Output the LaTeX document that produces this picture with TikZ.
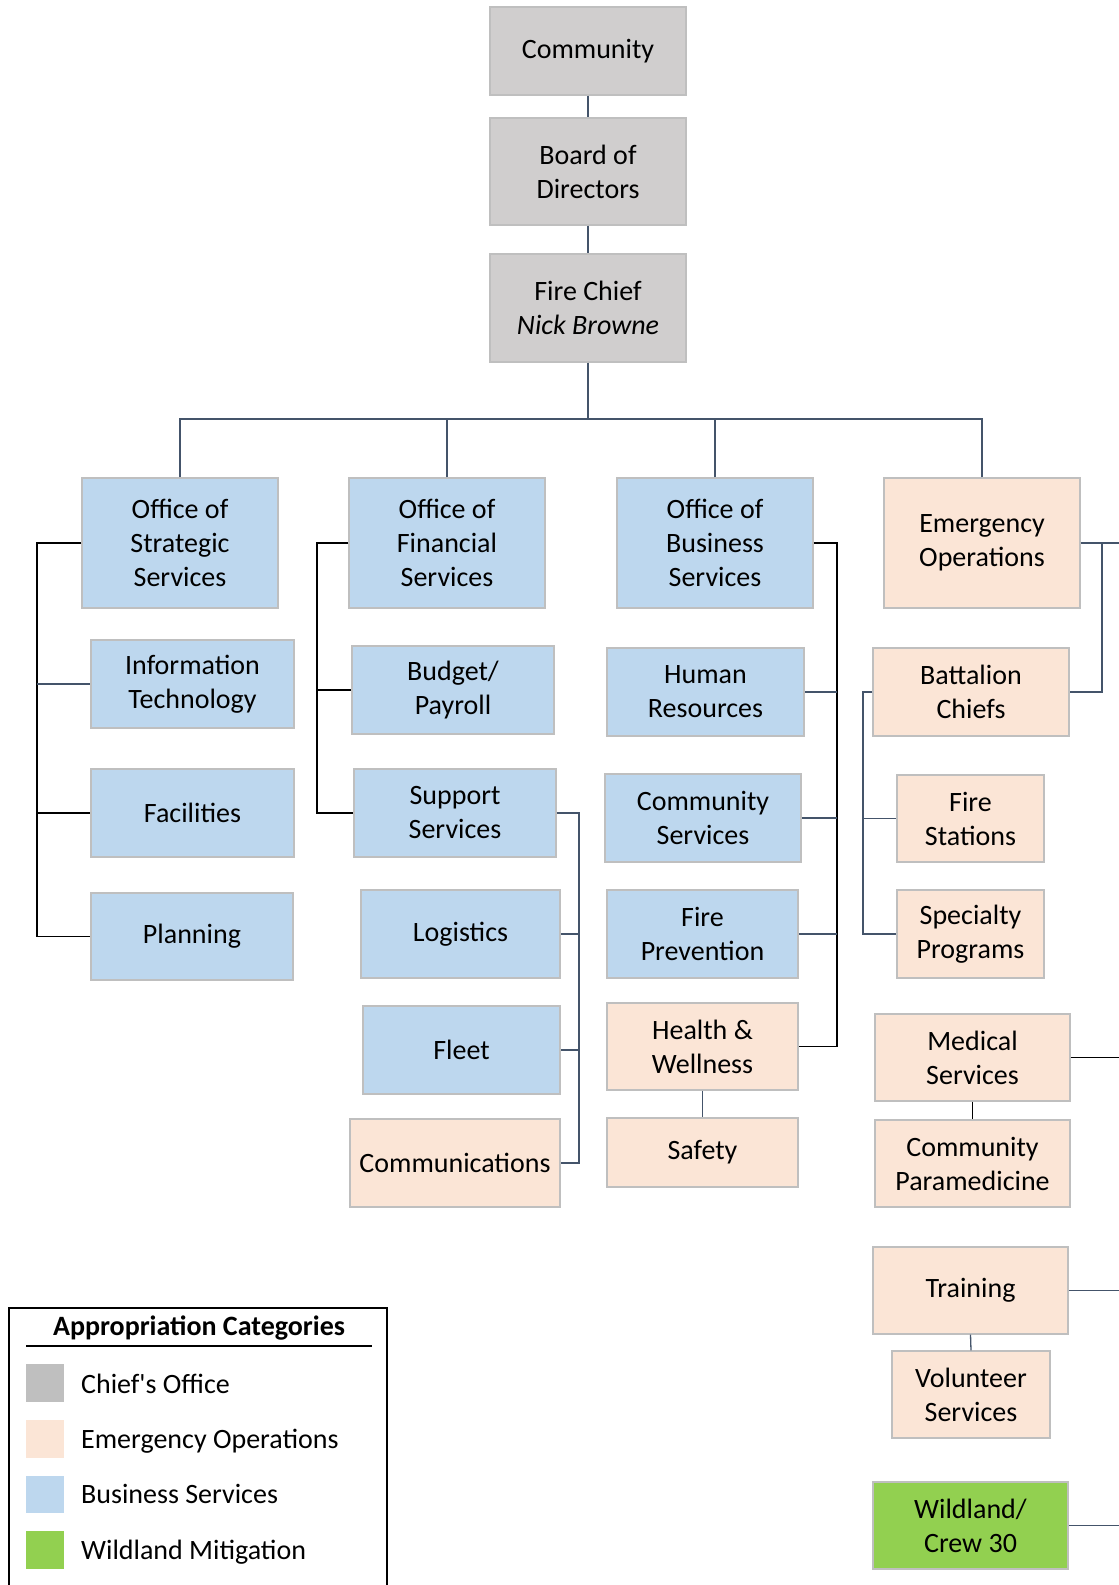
\documentclass[tikz,border=0pt]{standalone}
\usepackage{fontspec}
\setmainfont{Carlito}
\definecolor{cgray}{HTML}{D0CECE}
\definecolor{lgray}{HTML}{BFBFBF}
\definecolor{cblue}{HTML}{BDD7EE}
\definecolor{cpeach}{HTML}{FBE5D6}
\definecolor{cgreen}{HTML}{92D050}
\definecolor{slate}{HTML}{44546A}
\definecolor{bord}{HTML}{BFBFBF}
\tikzset{
  box/.style={draw=bord, line width=1.3pt, rectangle, inner sep=0pt, align=center,
    font=\fontsize{28}{34}\selectfont},
  gbox/.style={box, fill=cgray},
  bbox/.style={box, fill=cblue},
  pbox/.style={box, fill=cpeach},
  wbox/.style={box, fill=cgreen},
  blk/.style={draw=black, line width=1.3pt},
  sln/.style={draw=slate, line width=1.3pt},
  legtext/.style={anchor=base west, inner sep=0pt, font=\fontsize{28}{34}\selectfont}
}
\begin{document}
\begin{tikzpicture}[x=1pt,y=-1pt]
\useasboundingbox (0,0) rectangle (1119,1585);
\fill[white] (0,0) rectangle (1119,1585);

% top chain
\node[gbox, minimum width=196, minimum height=88] (comm) at (588,51) {Community};
\node[gbox, minimum width=196, minimum height=107] (board) at (588,171.5) {Board of\\Directors};
\node[gbox, minimum width=196, minimum height=108] (chief) at (588,308) {Fire Chief\\\textit{Nick Browne}};

% offices
\node[bbox, minimum width=196, minimum height=130] (strat) at (180,543) {Office of\\Strategic\\Services};
\node[bbox, minimum width=196, minimum height=130] (fin) at (447,543) {Office of\\Financial\\Services};
\node[bbox, minimum width=196, minimum height=130] (busn) at (715,543) {Office of\\Business\\Services};
\node[pbox, minimum width=196, minimum height=130] (eo) at (982,543) {Emergency\\Operations};

% strategic children
\node[bbox, minimum width=203, minimum height=88] (it) at (192.5,684) {Information\\Technology};
\node[bbox, minimum width=203, minimum height=88] (fac) at (192.5,813) {Facilities};
\node[bbox, minimum width=202, minimum height=87] (plan) at (192,936.5) {Planning};

% financial children
\node[bbox, minimum width=202, minimum height=88] (budget) at (453,690) {Budget/\\Payroll};
\node[bbox, minimum width=202, minimum height=88] (support) at (455,813) {Support\\Services};
\node[bbox, minimum width=199, minimum height=88] (logi) at (460.5,934) {Logistics};
\node[bbox, minimum width=197, minimum height=88] (fleet) at (461.5,1050) {Fleet};
\node[pbox, minimum width=210, minimum height=88] (commn) at (455,1163) {Communications};

% business children
\node[bbox, minimum width=197, minimum height=88] (hr) at (705.5,692) {Human\\Resources};
\node[bbox, minimum width=196, minimum height=88] (cs) at (703,818) {Community\\Services};
\node[bbox, minimum width=191, minimum height=88] (fp) at (702.5,934) {Fire\\Prevention};
\node[pbox, minimum width=191, minimum height=87] (hw) at (702.5,1046.5) {Health \&\\Wellness};
\node[pbox, minimum width=191, minimum height=69] (safety) at (702.5,1152.5) {Safety};

% emergency children
\node[pbox, minimum width=196, minimum height=88] (bc) at (971,692) {Battalion\\Chiefs};
\node[pbox, minimum width=147, minimum height=87] (fs) at (970.5,818.5) {Fire\\Stations};
\node[pbox, minimum width=147, minimum height=88] (sp) at (970.5,934) {Specialty\\Programs};
\node[pbox, minimum width=195, minimum height=87] (med) at (972.5,1057.5) {Medical\\Services};
\node[pbox, minimum width=195, minimum height=87] (cp) at (972.5,1163.5) {Community\\Paramedicine};
\node[pbox, minimum width=195, minimum height=87] (train) at (970.5,1290.5) {Training};
\node[pbox, minimum width=158, minimum height=87] (vol) at (971,1394.5) {Volunteer\\Services};
\node[wbox, minimum width=195, minimum height=87] (wild) at (970.5,1525.5) {Wildland/\\Crew 30};

% helper coordinates
\coordinate (bus) at (588,419);
\coordinate (xs) at (37,0);
\coordinate (xf) at (317,0);
\coordinate (xsup) at (579,0);
\coordinate (xb) at (837,0);
\coordinate (xe) at (1102,0);
\coordinate (xbc) at (863,0);
\coordinate (edge) at (1119,0);

% top connectors
\draw[sln] (comm.south) -- (board.north);
\draw[sln] (board.south) -- (chief.north);
\draw[sln] (chief.south) -- (bus);
\draw[sln] (strat.north) |- (bus);
\draw[sln] (fin.north) |- (bus);
\draw[sln] (busn.north) |- (bus);
\draw[sln] (eo.north) |- (bus);

% strategic spine
\draw[blk] (strat.west) -- (strat.west -| xs) -- (plan.west -| xs) -- (plan.west);
\draw[sln] (it.west -| xs) -- (it.west);
\draw[blk] (fac.west -| xs) -- (fac.west);

% financial spine
\draw[blk] (fin.west) -- (fin.west -| xf) -- (support.west -| xf) -- (support.west);
\draw[blk] (budget.west -| xf) -- (budget.west);

% support spine
\draw[sln] (support.east) -- (support.east -| xsup) -- (commn.east -| xsup) -- (commn.east);
\draw[sln] (logi.east -| xsup) -- (logi.east);
\draw[sln] (fleet.east -| xsup) -- (fleet.east);

% business spine
\draw[blk] (busn.east) -- (busn.east -| xb) -- (hw.east -| xb) -- (hw.east);
\draw[sln] (hr.east -| xb) -- (hr.east);
\draw[sln] (cs.east -| xb) -- (cs.east);
\draw[sln] (fp.east -| xb) -- (fp.east);
\draw[sln] (hw.south) -- (safety.north);

% emergency operations
\draw[sln] (eo.east) -- (eo.east -| edge);
\draw[sln] (eo.east -| xe) -- (bc.east -| xe) -- (bc.east);
\draw[sln] (bc.west) -- (bc.west -| xbc) -- (sp.west -| xbc) -- (sp.west);
\draw[sln] (fs.west -| xbc) -- (fs.west);
\draw[blk] (med.east) -- (med.east -| edge);
\draw[blk] (med.south) -- (cp.north);
\draw[sln] (train.east) -- (train.east -| edge);
\draw[sln] (train.south) -- (vol.north);
\draw[sln] (wild.east) -- (wild.east -| edge);

% legend
\draw[black, line width=2pt] (9,1590) -- (9,1308) -- (387,1308) -- (387,1590);
\node[anchor=base, inner sep=0pt, font=\fontsize{28}{34}\selectfont\bfseries] (legtitle) at (199,1335) {Appropriation Categories};
\draw[black, line width=2pt] (26,1346) -- (372,1346);
\fill[lgray] (26,1364) rectangle (64,1402);
\fill[cpeach] (26,1420) rectangle (64,1458);
\fill[cblue] (26,1476) rectangle (64,1513);
\fill[cgreen] (26,1531) rectangle (64,1569);
\node[legtext] (l1) at (81,1393) {Chief\textquotesingle s Office};
\node[legtext] (l2) at (81,1448) {Emergency Operations};
\node[legtext] (l3) at (81,1503) {Business Services};
\node[legtext] (l4) at (81,1559) {Wildland Mitigation};
\end{tikzpicture}
\end{document}
